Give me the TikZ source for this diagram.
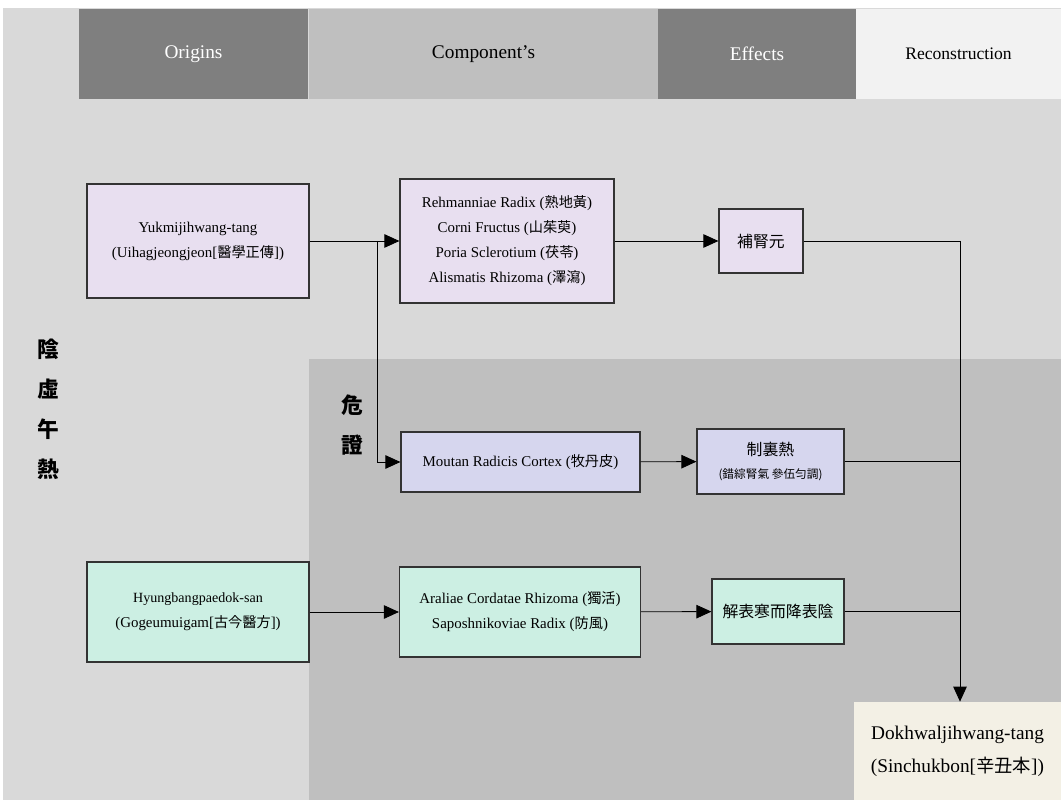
\documentclass[tikz,border=0pt]{standalone}
\usepackage{fontspec}
\setmainfont{Liberation Serif}
\newfontfamily\cjk[Scale=0.95]{Noto Sans CJK KR}
\usepackage{tikz}
\usetikzlibrary{arrows.meta}
\usetikzlibrary{positioning}
\newcommand{\hj}[1]{{\cjk #1}}
\definecolor{bglight}{HTML}{D9D9D9}
\definecolor{bgdark}{HTML}{BFBFBF}
\definecolor{hdark}{HTML}{7F7F7F}
\definecolor{hpale}{HTML}{F2F2F2}
\definecolor{purp}{HTML}{E8DFF0}
\definecolor{peri}{HTML}{D6D6EE}
\definecolor{mint}{HTML}{CCEFE3}
\definecolor{cream}{HTML}{F3F0E5}
\tikzset{herb/.style={draw=black!80, line width=0.7pt, inner sep=0pt, align=center, font=\fontsize{8.5}{14.2}\selectfont}}
\tikzset{head/.style={inner sep=0pt, minimum height=1.82cm, font=\fontsize{11}{13}\selectfont}}
\tikzset{link/.style={line width=0.5pt}}
\tikzset{arr/.style={link, -{Triangle[length=0.3cm,width=0.27cm]}}}

\begin{document}
\begin{tikzpicture}[x=0.02cm,y=-0.02cm]
{
\useasboundingbox (0,0) rectangle (1061,800);
\fill[bglight] (3,8) rectangle (1061,800);
\fill[bgdark] (309,359) rectangle (1061,800);
\node[head, fill=hdark, text=white, minimum width=4.6cm] (origins) at (193.5,54) {Origins};
\node[head, fill=bgdark, minimum width=6.98cm] (comps) at (483.5,54) {Component's};
\node[head, fill=hdark, text=white, minimum width=3.96cm] (effects) at (757,54) {Effects};
\node[head, fill=hpale, minimum width=4.1cm, font=\fontsize{10}{12}\selectfont] (recon) at (958.5,54) {Reconstruction};
\node[align=center, font=\cjk\bfseries\fontsize{13}{22.7}\selectfont] (yinheat) at (48,409) {陰\\虛\\午\\熱};
\node[align=center, font=\cjk\bfseries\fontsize{13}{22.7}\selectfont] (danger) at (352,425) {危\\證};
\node[herb, fill=purp, minimum width=4.44cm, minimum height=2.28cm] (yuk) at (198,241) {Yukmijihwang-tang\\(Uihagjeongjeon[\hj{醫學正傳}])};
\node[herb, fill=purp, minimum width=4.28cm, minimum height=2.48cm] (cmp) at (507,241) {Rehmanniae Radix (\hj{熟地黃})\\Corni Fructus (\hj{山茱萸})\\Poria Sclerotium (\hj{茯苓})\\Alismatis Rhizoma (\hj{澤瀉})};
\node[herb, fill=purp, minimum width=1.68cm, minimum height=1.28cm, font=\cjk\fontsize{9.5}{14}\selectfont] (bosin) at (761,241) {補腎元};
\node[herb, fill=peri, minimum width=4.78cm, minimum height=1.2cm] (mou) at (520.5,462) {Moutan Radicis Cortex (\hj{牧丹皮})};
\node[herb, fill=peri, minimum width=2.94cm, minimum height=1.3cm, font=\cjk\fontsize{9.5}{13}\selectfont] (jeri) at (770.5,461.5) {制裏熱\\{\fontsize{7}{9}\selectfont (錯綜腎氣 參伍匀調)}};
\node[herb, fill=mint, minimum width=4.44cm, minimum height=2cm] (hyu) at (198,612) {{\fontsize{8}{14}\selectfont Hyungbangpaedok-san}\\(Gogeumuigam[\hj{古今醫方}])};
\node[herb, fill=mint, minimum width=4.82cm, minimum height=1.8cm] (ara) at (520,612) {Araliae Cordatae Rhizoma (\hj{獨活})\\Saposhnikoviae Radix (\hj{防風})};
\node[herb, fill=mint, minimum width=2.64cm, minimum height=1.3cm, font=\cjk\fontsize{9.5}{13}\selectfont] (hae) at (778,611.5) {解表寒而降表陰};
\node[fill=cream, inner sep=0pt, align=center, minimum width=4.14cm, minimum height=1.96cm, font=\fontsize{11}{18.8}\selectfont] (fin) at (957.5,751) {Dokhwaljihwang-tang\\(Sinchukbon[\hj{辛丑本}])};
\coordinate (br) at (377,241);
\coordinate (jn) at (960,241);
\draw[arr] (yuk) -- (cmp);
\draw[arr] (br) |- (mou.west);
\draw[arr] (cmp) -- (bosin);
\draw[arr] (mou) -- (jeri);
\draw[arr] (hyu) -- (ara);
\draw[arr] (ara) -- (hae);
\draw[link] (bosin) -- (jn);
\draw[link] (jeri.east) -- (jeri.east -| jn);
\draw[link] (hae.east) -- (hae.east -| jn);
\draw[arr] (jn) -- (fin.north -| jn);
}
\end{tikzpicture}
\end{document}
